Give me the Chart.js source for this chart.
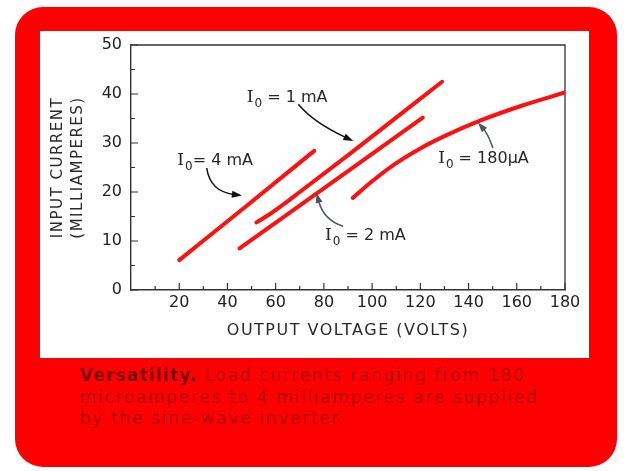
<!DOCTYPE html>
<html>
<head>
<meta charset="utf-8">
<script src="https://cdn.jsdelivr.net/npm/chart.js@4.4.1/dist/chart.umd.min.js"></script>
<style>
  html,body{margin:0;padding:0;background:#fff;}
  body{width:628px;height:471px;position:relative;overflow:hidden;}
  #frame{position:absolute;left:15px;top:7px;width:602px;height:460px;background:#ff0000;border-radius:28px;}
  #panel{position:absolute;left:40px;top:31px;width:549px;height:327px;background:#fff;}
  #c{position:absolute;left:0;top:0;}
  #cap{position:absolute;left:80px;top:365px;width:530px;font-family:"DejaVu Sans",sans-serif;font-size:17px;line-height:21.5px;letter-spacing:1.7px;color:#b00000;white-space:nowrap;}
  #cap b{color:#7a0000;letter-spacing:1.2px;}
</style>
</head>
<body>
<div id="frame"></div>
<div id="panel"></div>
<canvas id="c" width="628" height="471"></canvas>
<div id="cap"><b>Versatility.</b> Load currents ranging from 180<br>microamperes to 4 milliamperes are supplied<br>by the sine-wave inverter.</div>
<script>
// ---- data ----
const xTickValues = [20, 40, 60, 80, 100, 120, 140, 160, 180];
const xMinorTicks = [10, 30, 50, 70, 90, 110, 130, 150, 170];
const yTickValues = [0, 10, 20, 30, 40, 50];
const yMinorTicks = [5, 15, 25, 35, 45];

const seriesNames = ['I0 = 4 mA', 'I0 = 1 mA', 'I0 = 2 mA', 'I0 = 180 \u03bcA'];

const volts4mA  = [20, 48, 76];
const amps4mA   = [6.1, 17.2, 28.4];
const volts1mA  = [52, 57, 63, 70, 91, 129];
const amps1mA   = [13.8, 15.3, 17.4, 20.0, 27.9, 42.5];
const volts2mA  = [45, 91, 121];
const amps2mA   = [8.5, 24.6, 35.2];
const volts180  = [92, 100, 110, 120, 130, 145, 162, 180];
const amps180   = [18.8, 22.2, 25.9, 28.9, 31.4, 34.6, 37.6, 40.3];

// annotation anchors in data units (label baseline start, arrow start/control/end)
const notes = [
  {sub:'0', rest:'= 4 mA', at:[19.2, 25.6], arrow:[[31.4,24.9],[32.8,20.1],[46.0,19.3]], color:'#111'},
  {sub:'0', rest:' = 1 mA', at:[48.0, 38.3], arrow:[[69.4,37.9],[75.6,34.2],[92.2,30.4]], color:'#111'},
  {sub:'0', rest:' = 2 mA', at:[80.5, 10.2], arrow:[[88.0,13.0],[79.8,14.3],[77.0,19.8]], color:'#4a5560'},
  {sub:'0', rest:' = 180\u03bcA', at:[127.4, 25.9], arrow:[[150.1,29.0],[148.1,31.8],[143.9,34.2]], color:'#4a5560'}
];

function pts(xs, ys){ return xs.map((v,i)=>({x:v, y:ys[i]})); }

const lineStyle = {showLine:true, borderColor:'#ff1010', backgroundColor:'#ff1010', borderWidth:4,
  pointRadius:0, borderCapStyle:'round', cubicInterpolationMode:'monotone', fill:false};

const frameTicks = {
  id:'frameTicks',
  beforeDraw(chart){
    for (const s of [chart.scales.x, chart.scales.y]) {
      if (!s._lsPatched) {
        const orig = s.drawTitle.bind(s);
        s.drawTitle = function(){ const c=this.ctx; c.save(); c.letterSpacing='1.5px'; orig(); c.restore(); };
        s._lsPatched = true;
      }
    }
  },
  beforeDatasetsDraw(chart){
    const {ctx, chartArea:a, scales:{x, y}} = chart;
    ctx.save();
    ctx.strokeStyle = '#333';
    ctx.lineWidth = 1.3;
    ctx.beginPath();
    ctx.moveTo(a.left, a.top); ctx.lineTo(a.right, a.top); ctx.lineTo(a.right, a.bottom);
    ctx.stroke();
    ctx.lineWidth = 1.2;
    ctx.beginPath();
    for (const v of xTickValues) { const px = x.getPixelForValue(v); ctx.moveTo(px, a.bottom); ctx.lineTo(px, a.bottom-7); }
    for (const v of xMinorTicks) { const px = x.getPixelForValue(v); ctx.moveTo(px, a.bottom); ctx.lineTo(px, a.bottom-4); }
    for (const v of yTickValues) { const py = y.getPixelForValue(v); ctx.moveTo(a.left, py); ctx.lineTo(a.left+7, py); }
    for (const v of yMinorTicks) { const py = y.getPixelForValue(v); ctx.moveTo(a.left, py); ctx.lineTo(a.left+4, py); }
    ctx.stroke();
    ctx.restore();
  },
  afterDatasetsDraw(chart){
    const {ctx, scales:{x, y}} = chart;
    ctx.save();
    for (const n of notes) {
      let px = x.getPixelForValue(n.at[0]), py = y.getPixelForValue(n.at[1]);
      ctx.fillStyle = '#262626';
      ctx.textBaseline = 'alphabetic';
      ctx.textAlign = 'left';
      ctx.font = '17px "DejaVu Serif"';
      ctx.fillText('I', px, py); px += ctx.measureText('I').width + 1;
      ctx.font = '12px "DejaVu Sans"';
      ctx.fillText(n.sub, px, py + 5); px += ctx.measureText(n.sub).width;
      ctx.font = '16px "DejaVu Sans"';
      ctx.fillText(n.rest, px, py);
      const [s, c, e] = n.arrow.map(p => [x.getPixelForValue(p[0]), y.getPixelForValue(p[1])]);
      ctx.strokeStyle = n.color; ctx.fillStyle = n.color; ctx.lineWidth = 1.5;
      const ang = Math.atan2(e[1]-c[1], e[0]-c[0]);
      const L = 10, W = 3.5;
      const bx = e[0] - L*Math.cos(ang), by = e[1] - L*Math.sin(ang);
      ctx.beginPath(); ctx.moveTo(s[0], s[1]); ctx.quadraticCurveTo(c[0], c[1], bx + 2*Math.cos(ang), by + 2*Math.sin(ang)); ctx.stroke();
      ctx.beginPath();
      ctx.moveTo(e[0], e[1]);
      ctx.lineTo(bx - W*Math.sin(ang), by + W*Math.cos(ang));
      ctx.lineTo(bx + W*Math.sin(ang), by - W*Math.cos(ang));
      ctx.closePath(); ctx.fill();
    }
    ctx.restore();
  }
};

new Chart(document.getElementById('c'), {
  type: 'scatter',
  data: {
    datasets: [
      Object.assign({label: seriesNames[0], data: pts(volts4mA, amps4mA)}, lineStyle),
      Object.assign({label: seriesNames[1], data: pts(volts1mA, amps1mA)}, lineStyle),
      Object.assign({label: seriesNames[2], data: pts(volts2mA, amps2mA)}, lineStyle),
      Object.assign({label: seriesNames[3], data: pts(volts180, amps180)}, lineStyle)
    ]
  },
  options: {
    responsive: false,
    animation: false,
    events: [],
    layout: {padding: {left: 40, right: 63, top: 45, bottom: 121}},
    plugins: {legend: {display: false}, tooltip: {enabled: false}},
    scales: {
      x: {
        type: 'linear', min: 0, max: 180,
        afterFit(s){ s.height = 60; },
        afterBuildTicks(s){ s.ticks = xTickValues.map(v => ({value: v})); },
        grid: {display: false, drawTicks: false},
        border: {display: true, color: '#333', width: 1.4},
        ticks: {padding: 3, color: '#222', font: {family: 'DejaVu Sans', size: 16}, maxRotation: 0, autoSkip: false},
        title: {display: true, text: 'OUTPUT VOLTAGE (VOLTS)', color: '#2a2a2a',
          font: {family: 'DejaVu Sans', size: 16, lineHeight: 1.25}, padding: {top: 0, bottom: 9}}
      },
      y: {
        type: 'linear', min: 0, max: 50,
        afterFit(s){ s.width = 91; },
        afterBuildTicks(s){ s.ticks = yTickValues.map(v => ({value: v})); },
        grid: {display: false, drawTicks: false},
        border: {display: true, color: '#333', width: 1.4},
        ticks: {padding: 9, color: '#222', font: {family: 'DejaVu Sans', size: 16}, autoSkip: false},
        title: {display: true, text: ['INPUT CURRENT', '(MILLIAMPERES)'], color: '#2a2a2a',
          font: {family: 'DejaVu Sans', size: 15, lineHeight: 1.3333}, padding: {top: 8, bottom: 0}}
      }
    }
  },
  plugins: [frameTicks]
});
</script>
</body>
</html>
